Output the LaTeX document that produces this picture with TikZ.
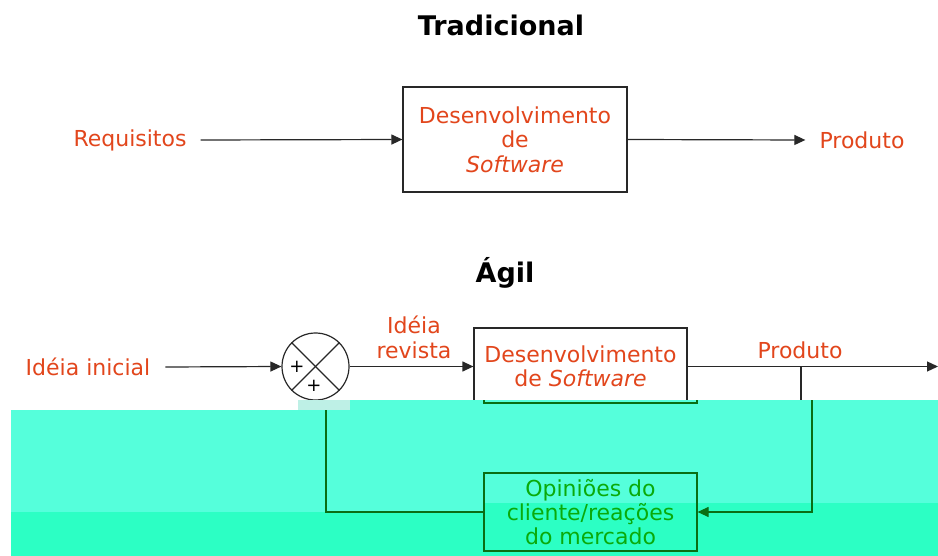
\documentclass[tikz,border=0pt]{standalone}
\usepackage{fontspec}
\setmainfont{DejaVu Sans}
\usetikzlibrary{arrows.meta}
\definecolor{txtor}{RGB}{226,70,28}
\definecolor{lineg}{RGB}{40,40,40}
\definecolor{cyanA}{RGB}{85,255,219}
\definecolor{cyanB}{RGB}{44,255,196}
\definecolor{fbline}{RGB}{10,110,20}
\definecolor{optxt}{RGB}{10,170,10}
\definecolor{garble}{RGB}{190,240,230}
\tikzset{
  lbl/.style={text=txtor, font=\fontsize{22}{24}\selectfont, inner sep=0pt},
  ttl/.style={font=\bfseries\fontsize{27}{30}\selectfont, inner sep=0pt},
  devbox/.style={draw=lineg, line width=1.2pt, text=txtor, align=center, inner sep=0pt,
    font=\fontsize{22}{24.5}\selectfont},
  opbox/.style={draw=fbline, line width=1.2pt, text=optxt, align=center, inner sep=0pt,
    font=\fontsize{22}{24}\selectfont},
  conn/.style={draw=lineg, line width=1.2pt},
  arr/.style={conn, -{Triangle[length=11pt,width=10pt]}},
  fb/.style={draw=fbline, line width=1.2pt},
  fbarr/.style={fb, -{Triangle[length=11pt,width=10pt]}},
}
\begin{document}
\begin{tikzpicture}[x=1pt,y=-1pt]
\useasboundingbox (0,0) rectangle (938,556);
\fill[white] (0,0) rectangle (938,556);

% ---------- Tradicional ----------
\node[ttl] (t1) at (501,25) {Tradicional};
\node[lbl] (req) at (130,140) {Requisitos};
\node[devbox, minimum width=224pt, minimum height=105pt] (dev1) at (515,139.5)
  {Desenvolvimento\\de\\\textit{Software}};
\node[lbl] (prod1) at (862,140) {Produto};
\draw[arr] ([xshift=14pt]req.east) -- (dev1.west);
\draw[arr] (dev1.east) -- ([xshift=-14pt]prod1.west);

% ---------- Agil ----------
\node[ttl] (t2) at (505,273) {Ágil};
\node[lbl] (ini) at (88,367) {Idéia inicial};
\node[draw=lineg, line width=1.2pt, circle, minimum size=67pt, inner sep=0pt] (sum) at (315.5,366.5) {};
\draw[conn] (sum.north west) -- (sum.south east);
\draw[conn] (sum.north east) -- (sum.south west);
\node[font=\fontsize{18}{18}\selectfont, inner sep=0pt] (p1) at (297,367) {+};
\node[font=\fontsize{18}{18}\selectfont, inner sep=0pt] (p2) at (314,386) {+};
\node[lbl, align=center, font=\fontsize{22}{25}\selectfont] (rev) at (414,337.5) {Idéia\\revista};
\node[devbox, minimum width=213pt, minimum height=77pt] (dev2) at (580.5,366.5)
  {Desenvolvimento\\de \textit{Software}};
\node[lbl] (prod2) at (800,350) {Produto};
\coordinate (outend) at (938,366.5);
\coordinate (junc) at (801,366.5);
\coordinate (jdown) at (801,400);

\draw[arr] ([xshift=15pt]ini.east) -- (sum.west);
\draw[arr] (sum.east) -- (dev2.west);
\draw[arr] (dev2.east) -- (outend);
\draw[conn] (junc) -- (jdown);

% ---------- cyan region ----------
\fill[cyanA] (11,410) -- (298,410) -- (298,400) -- (938,400) -- (938,556) -- (11,556) -- cycle;
\fill[garble] (298,400) rectangle (350,410);
\fill[cyanB] (11,512) -- (484,512) -- (484,503) -- (938,503) -- (938,556) -- (11,556) -- cycle;

\node[opbox, minimum width=213pt, minimum height=78pt] (op) at (590.5,512)
  {Opiniões do\\cliente/reações\\do mercado};
\draw[fb] (484,400) -- (484,403) -- (697,403) -- (697,400);
\coordinate (fbtop) at (326,410);
\coordinate (fbcorner) at (326,512);
\coordinate (prtop) at (812,400);
\coordinate (prcorner) at (812,512);
\draw[fb] (op.west) -- (fbcorner) -- (fbtop);
\draw[fbarr] (prtop) -- (prcorner) -- (op.east);
\end{tikzpicture}
\end{document}
